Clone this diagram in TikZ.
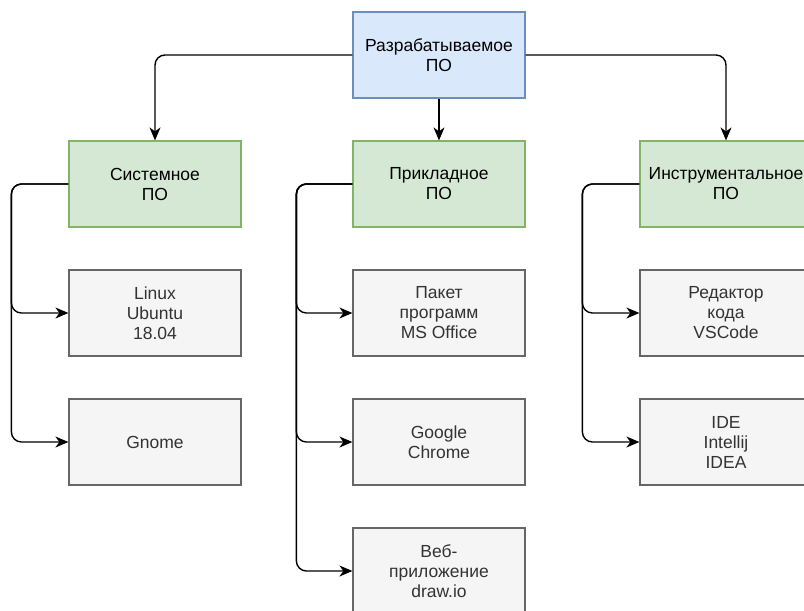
\documentclass[tikz,border=0pt]{standalone}
\usepackage{fontspec}
\setmainfont{Liberation Sans}
\usetikzlibrary{arrows.meta}
\definecolor{bluefill}{HTML}{DAE8FC}
\definecolor{bluedraw}{HTML}{6C8EBF}
\definecolor{greenfill}{HTML}{D5E8D4}
\definecolor{greendraw}{HTML}{82B366}
\definecolor{grayfill}{HTML}{F5F5F5}
\definecolor{graydraw}{HTML}{666666}
\definecolor{graytext}{HTML}{333333}
\tikzset{
  box/.style={rectangle, minimum width=172pt, minimum height=86pt, inner sep=0pt,
    align=center, line width=1.2pt, font=\fontsize{17.5}{20}\selectfont},
  topbox/.style={box, fill=bluefill, draw=bluedraw},
  catbox/.style={box, fill=greenfill, draw=greendraw},
  itembox/.style={box, fill=grayfill, draw=graydraw, text=graytext},
  conn/.style={line width=1.4pt, rounded corners=10pt,
    -{Stealth[length=13pt,width=11pt,inset=4pt]}}
}
\begin{document}
\begin{tikzpicture}[x=1pt,y=-1pt]
\useasboundingbox (0,0) rectangle (804,611);
\clip (0,0) rectangle (804,611);
\fill[white] (0,0) rectangle (804,611);

\node[topbox] (top) at (439,55) {Разрабатываемое\\ПО};

\node[catbox] (sys) at (155,184) {Системное\\ПО};
\node[catbox] (app) at (439,184) {Прикладное\\ПО};
\node[catbox] (tool) at (726,184) {Инструментальное\\ПО};

\node[itembox] (linux) at (155,313) {Linux\\Ubuntu\\18.04};
\node[itembox] (gnome) at (155,442) {Gnome};

\node[itembox] (office) at (439,313) {Пакет\\программ\\MS Office};
\node[itembox] (chrome) at (439,442) {Google\\Chrome};
\node[itembox] (web) at (439,571) {Веб-\\приложение\\draw.io};

\node[itembox] (vscode) at (726,313) {Редактор\\кода\\VSCode};
\node[itembox] (idea) at (726,442) {IDE\\Intellij\\IDEA};

\draw[conn] (top.west) -| (sys.north);
\draw[conn] (top.south) -- (app.north);
\draw[conn] (top.east) -| (tool.north);

\draw[conn] (sys.west) -- ++(-57,0) |- (linux.west);
\draw[conn] (sys.west) -- ++(-57,0) |- (gnome.west);

\draw[conn] (app.west) -- ++(-56,0) |- (office.west);
\draw[conn] (app.west) -- ++(-56,0) |- (chrome.west);
\draw[conn] (app.west) -- ++(-56,0) |- (web.west);

\draw[conn] (tool.west) -- ++(-57,0) |- (vscode.west);
\draw[conn] (tool.west) -- ++(-57,0) |- (idea.west);
\end{tikzpicture}
\end{document}
